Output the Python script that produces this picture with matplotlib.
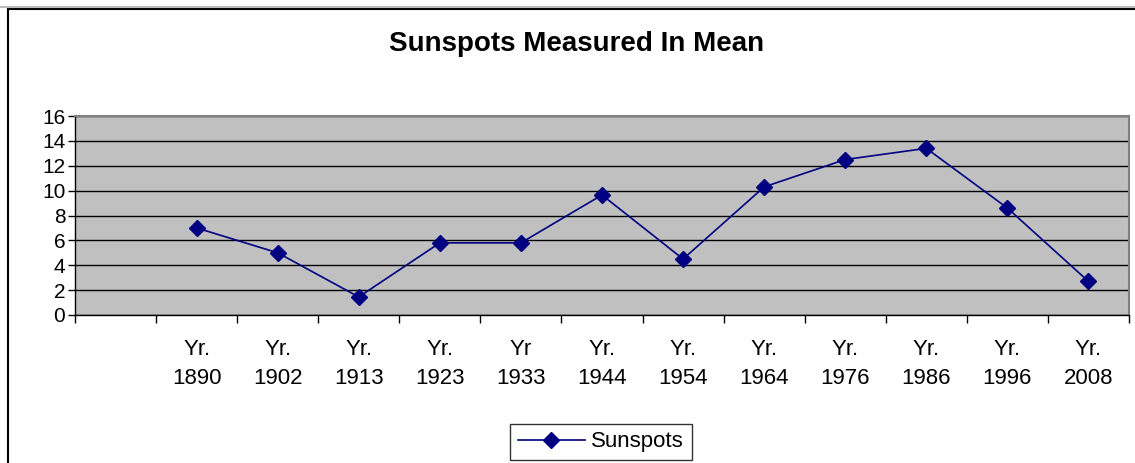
import numpy as np
import matplotlib
matplotlib.use("Agg")
import matplotlib.pyplot as plt
from matplotlib.lines import Line2D
from matplotlib.patches import Rectangle

plt.rcParams['font.family'] = ['Liberation Sans', 'DejaVu Sans']

# first slot is an empty category, like the original sheet
labels = ["", "Yr.\n1890", "Yr.\n1902", "Yr.\n1913", "Yr.\n1923", "Yr\n1933", "Yr.\n1944",
          "Yr.\n1954", "Yr.\n1964", "Yr.\n1976", "Yr.\n1986", "Yr.\n1996", "Yr.\n2008"]
sunspots = [np.nan, 7.0, 5.0, 1.45, 5.8, 5.8, 9.65, 4.5, 10.3, 12.5, 13.4, 8.6, 2.7]
yticks = [0, 2, 4, 6, 8, 10, 12, 14, 16]

fig = plt.figure(figsize=(11.35, 4.63), dpi=100)
ax = fig.add_axes([75 / 1135, 1 - 315 / 463, 1054 / 1135, 199 / 463])

navy = "#000080"
x = np.arange(len(labels))
ax.plot(x, sunspots, color=navy, lw=1.2, marker="D", ms=8.5, mfc=navy, mec=navy)

ax.set_facecolor("#c0c0c0")
ax.set_xlim(-0.5, len(labels) - 0.5)
ax.set_ylim(0, 16)
ax.set_yticks(yticks)
ax.tick_params(axis="y", labelsize=15, length=5, width=1, pad=2)
ax.yaxis.grid(True, color="black", lw=1)
ax.set_axisbelow(True)

# category ticks sit between slots, labels in the middle of each slot
ax.set_xticks(np.arange(-0.5, len(labels), 1.0))
ax.set_xticklabels([])
ax.set_xticks(x, minor=True)
ax.set_xticklabels(labels, minor=True, fontsize=16, linespacing=1.5)
ax.tick_params(axis="x", which="major", length=6, width=1, direction="out")
ax.tick_params(axis="x", which="minor", length=0, pad=17)

for s in ["left", "bottom"]:
    ax.spines[s].set_color("black")
    ax.spines[s].set_linewidth(1)
for s in ["top", "right"]:
    ax.spines[s].set_color("#808080")
    ax.spines[s].set_linewidth(1.5)

fig.text(577 / 1135, 1 - 44 / 463, "Sunspots Measured In Mean", ha="center", va="center",
         fontsize=20, fontweight="bold")

# outer chart frame (right and bottom edges run off the picture)
fig.patches.append(Rectangle((8 / 1135, -0.02), 1.1, 1 - 9 / 463 + 0.02,
                             transform=fig.transFigure, fill=False, ec="black", lw=1.5))
fig.lines.append(Line2D([0, 1], [1 - 7 / 463] * 2, transform=fig.transFigure,
                        color="#bbbbbb", lw=1.5))

handle = Line2D([], [], color=navy, lw=1.2, marker="D", ms=8, mfc=navy, mec=navy)
leg = fig.legend([handle], ["Sunspots"], loc="center", bbox_to_anchor=(601 / 1135, 1 - 442 / 463),
                 fontsize=16, frameon=True, fancybox=False, edgecolor="black",
                 handlelength=3, borderpad=0.35, handletextpad=0.3)
leg.get_frame().set_linewidth(1)

fig.savefig("out.png", dpi=100)
